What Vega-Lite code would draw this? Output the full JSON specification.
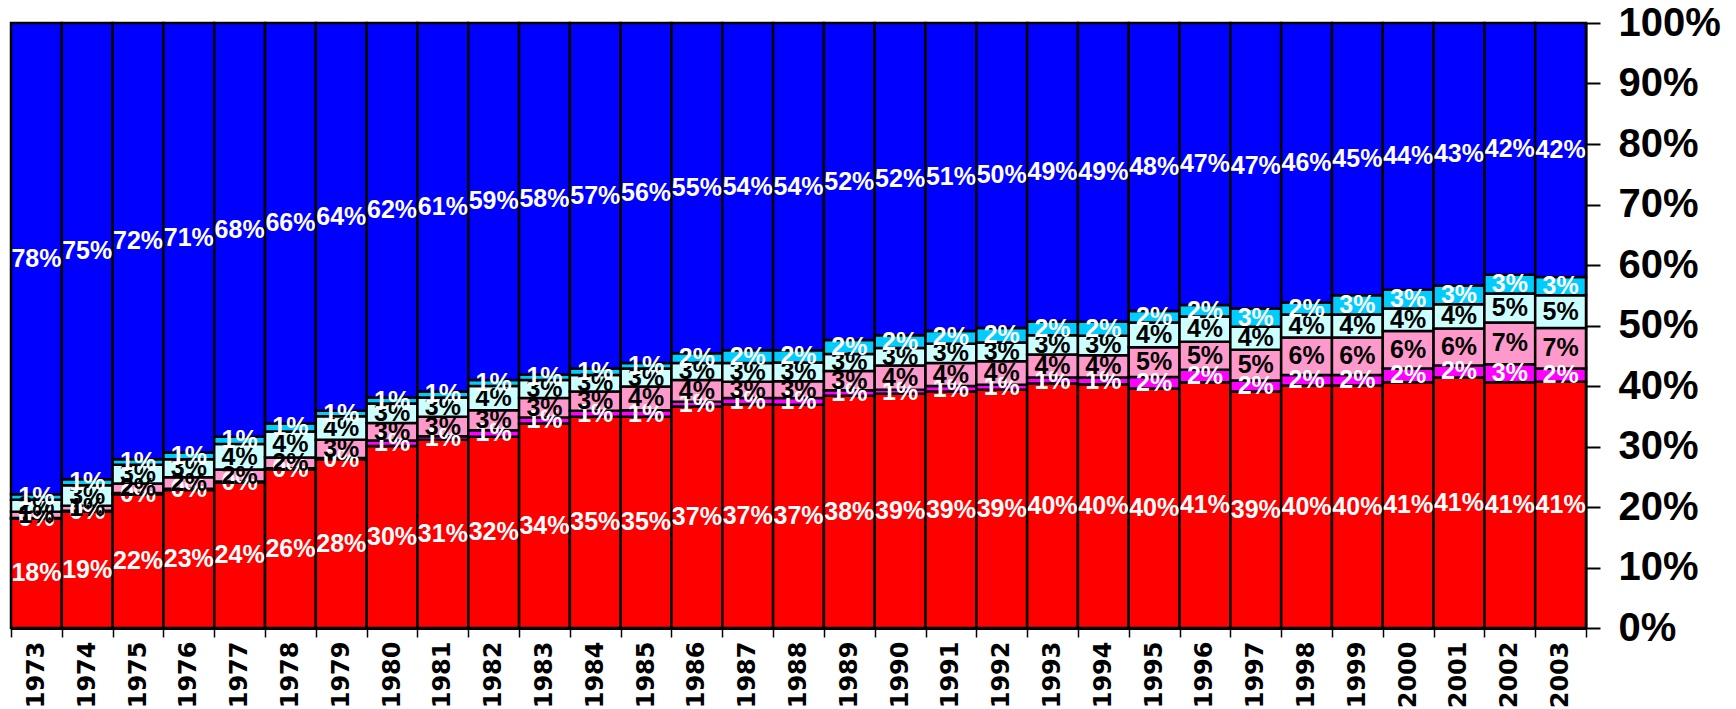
{
  "$schema": "https://vega.github.io/schema/vega-lite/v6.json",
  "width": 1575,
  "height": 605,
  "autosize": {"type": "none"},
  "padding": {"left": 11, "top": 23, "right": 150, "bottom": 81},
  "background": "white",
  "config": {"view": {"stroke": null}},
  "data": {
    "values": [
      {"year": "1973", "A": 0.181, "B": 0.001, "C": 0.010, "D": 0.020, "E": 0.009, "F": 0.779},
      {"year": "1974", "A": 0.192, "B": 0.002, "C": 0.008, "D": 0.034, "E": 0.010, "F": 0.754},
      {"year": "1975", "A": 0.221, "B": 0.002, "C": 0.016, "D": 0.031, "E": 0.009, "F": 0.721},
      {"year": "1976", "A": 0.228, "B": 0.002, "C": 0.019, "D": 0.030, "E": 0.011, "F": 0.710},
      {"year": "1977", "A": 0.240, "B": 0.002, "C": 0.020, "D": 0.042, "E": 0.012, "F": 0.684},
      {"year": "1978", "A": 0.262, "B": 0.002, "C": 0.018, "D": 0.043, "E": 0.013, "F": 0.662},
      {"year": "1979", "A": 0.279, "B": 0.002, "C": 0.030, "D": 0.039, "E": 0.009, "F": 0.641},
      {"year": "1980", "A": 0.301, "B": 0.009, "C": 0.029, "D": 0.032, "E": 0.010, "F": 0.619},
      {"year": "1981", "A": 0.311, "B": 0.006, "C": 0.032, "D": 0.032, "E": 0.010, "F": 0.609},
      {"year": "1982", "A": 0.316, "B": 0.011, "C": 0.033, "D": 0.040, "E": 0.010, "F": 0.590},
      {"year": "1983", "A": 0.338, "B": 0.010, "C": 0.032, "D": 0.030, "E": 0.009, "F": 0.581},
      {"year": "1984", "A": 0.349, "B": 0.010, "C": 0.032, "D": 0.027, "E": 0.011, "F": 0.571},
      {"year": "1985", "A": 0.349, "B": 0.011, "C": 0.039, "D": 0.030, "E": 0.009, "F": 0.562},
      {"year": "1986", "A": 0.366, "B": 0.008, "C": 0.036, "D": 0.028, "E": 0.016, "F": 0.546},
      {"year": "1987", "A": 0.370, "B": 0.010, "C": 0.027, "D": 0.031, "E": 0.021, "F": 0.541},
      {"year": "1988", "A": 0.369, "B": 0.011, "C": 0.028, "D": 0.031, "E": 0.020, "F": 0.541},
      {"year": "1989", "A": 0.384, "B": 0.009, "C": 0.032, "D": 0.028, "E": 0.023, "F": 0.524},
      {"year": "1990", "A": 0.387, "B": 0.007, "C": 0.040, "D": 0.029, "E": 0.021, "F": 0.516},
      {"year": "1991", "A": 0.391, "B": 0.009, "C": 0.038, "D": 0.032, "E": 0.021, "F": 0.509},
      {"year": "1992", "A": 0.394, "B": 0.008, "C": 0.039, "D": 0.031, "E": 0.024, "F": 0.504},
      {"year": "1993", "A": 0.404, "B": 0.010, "C": 0.038, "D": 0.032, "E": 0.022, "F": 0.494},
      {"year": "1994", "A": 0.403, "B": 0.011, "C": 0.037, "D": 0.032, "E": 0.023, "F": 0.494},
      {"year": "1995", "A": 0.396, "B": 0.019, "C": 0.049, "D": 0.041, "E": 0.019, "F": 0.476},
      {"year": "1996", "A": 0.406, "B": 0.021, "C": 0.046, "D": 0.042, "E": 0.019, "F": 0.466},
      {"year": "1997", "A": 0.391, "B": 0.018, "C": 0.051, "D": 0.038, "E": 0.030, "F": 0.472},
      {"year": "1998", "A": 0.401, "B": 0.017, "C": 0.062, "D": 0.038, "E": 0.020, "F": 0.462},
      {"year": "1999", "A": 0.401, "B": 0.017, "C": 0.062, "D": 0.038, "E": 0.032, "F": 0.450},
      {"year": "2000", "A": 0.406, "B": 0.023, "C": 0.062, "D": 0.037, "E": 0.031, "F": 0.441},
      {"year": "2001", "A": 0.414, "B": 0.020, "C": 0.061, "D": 0.040, "E": 0.031, "F": 0.434},
      {"year": "2002", "A": 0.406, "B": 0.030, "C": 0.069, "D": 0.048, "E": 0.031, "F": 0.416},
      {"year": "2003", "A": 0.407, "B": 0.022, "C": 0.067, "D": 0.054, "E": 0.030, "F": 0.420}
    ]
  },
  "transform": [{"fold": ["A", "B", "C", "D", "E", "F"], "as": ["series", "share"]}],
  "encoding": {
    "x": {
      "field": "year",
      "type": "ordinal",
      "title": null,
      "scale": {"paddingInner": 0, "paddingOuter": 0},
      "axis": {
        "labelAngle": -90,
        "labelFont": "DejaVu Sans",
        "labelFontWeight": "bold",
        "labelFontSize": 24,
        "labelColor": "black",
        "labelPadding": 4,
        "tickBand": "extent",
        "tickColor": "black",
        "tickSize": 9,
        "tickWidth": 1.5,
        "domainColor": "black",
        "domainWidth": 3
      }
    },
    "y": {
      "field": "share",
      "type": "quantitative",
      "stack": "zero",
      "title": null,
      "scale": {"domain": [0, 1], "nice": false},
      "axis": {
        "orient": "right",
        "values": [0, 0.1, 0.2, 0.3, 0.4, 0.5, 0.6, 0.7, 0.8, 0.9, 1],
        "format": ".0%",
        "grid": false,
        "labelFont": "Liberation Sans",
        "labelFontWeight": "bold",
        "labelFontSize": 40,
        "labelColor": "black",
        "labelPadding": 18,
        "tickColor": "black",
        "tickSize": 14,
        "tickWidth": 2,
        "domainColor": "black",
        "domainWidth": 2
      }
    },
    "order": {"field": "series", "type": "nominal", "sort": "ascending"}
  },
  "layer": [
    {
      "mark": {"type": "bar", "stroke": "black", "strokeWidth": 2.5},
      "encoding": {
        "color": {
          "field": "series",
          "type": "nominal",
          "scale": {
            "domain": ["A", "B", "C", "D", "E", "F"],
            "range": ["#FF0000", "#FF00FF", "#FF99CC", "#CCFFFF", "#00CCFF", "#0000FF"]
          },
          "legend": null
        }
      }
    },
    {
      "mark": {"type": "text", "font": "Liberation Sans", "fontWeight": "bold", "fontSize": 25, "align": "center", "baseline": "middle"},
      "encoding": {
        "y": {"field": "share", "type": "quantitative", "stack": "zero", "bandPosition": 0.5},
        "detail": {"field": "series"},
        "text": {"field": "share", "type": "quantitative", "format": ".0%"},
        "color": {
          "condition": {"test": "datum.series === 'C' || datum.series === 'D'", "value": "black"},
          "value": "white"
        }
      }
    }
  ]
}
